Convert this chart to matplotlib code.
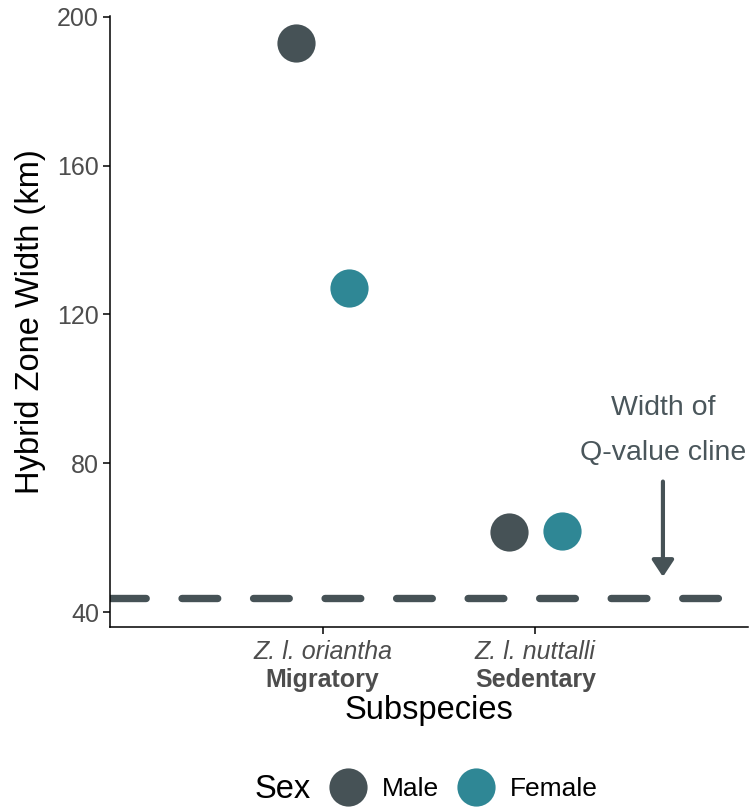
import matplotlib
matplotlib.use("Agg")
import matplotlib.pyplot as plt
from matplotlib.lines import Line2D
import numpy as np

# --- Data ---
subspecies = ["Z. l. oriantha", "Z. l. nuttalli"]
behaviour = ["Migratory", "Sedentary"]
sexes = ["Male", "Female"]
width_male = [192.9, 61.5]
width_female = [127.0, 61.8]
q_cline_width = 43.8

# Colours
MALE = "#465256"
FEMALE = "#2F8795"
LINE = "#465256"
GREY = "#4D4D4D"

plt.rcParams.update({
    "font.family": ["Liberation Sans", "DejaVu Sans"],
    "lines.scale_dashes": False,
})

fig = plt.figure(figsize=(7.49, 8.10), dpi=100)
ax = fig.add_axes([110 / 749, 1 - 626.7 / 810, 638 / 749, 610.7 / 810])

x = np.arange(1, len(subspecies) + 1)
dodge = 0.125
values = {"Male": width_male, "Female": width_female}
colors = {"Male": MALE, "Female": FEMALE}
for i, sex in enumerate(sexes):
    ax.plot(x + (i - 0.5) * 2 * dodge, values[sex], "o", ms=27.5,
            color=colors[sex], mec="none", zorder=3)

# Q-value cline reference line
ax.axhline(q_cline_width, color=LINE, lw=5.3, dashes=(25.7, 25.8),
           dash_capstyle="round", zorder=2)

# annotation with arrow
ax.annotate("", xy=(2.6, 49.5), xytext=(2.6, 75.1),
            arrowprops=dict(arrowstyle="-|>,head_length=0.5,head_width=0.33",
                            lw=3, color=LINE, shrinkA=0, shrinkB=0,
                            mutation_scale=20))
ax.text(2.6, 94.8, "Width of", ha="center", va="center", fontsize=20.5,
        color="#4A565B")
ax.text(2.6, 82.7, "Q-value cline", ha="center", va="center", fontsize=20.5,
        color="#4A565B", clip_on=False)

ax.set_xlim(0, 3)
ax.set_ylim(36.1, 200.2)
ax.set_yticks([40, 80, 120, 160, 200])
ax.set_xticks(x)
ax.set_xticklabels([])
ax.tick_params(axis="both", length=5, width=1.1, color="black",
               labelsize=18, labelcolor=GREY, pad=3)

for xi, sp, beh in zip(x, subspecies, behaviour):
    ax.annotate(sp, xy=(xi, 0), xycoords=("data", "axes fraction"),
                xytext=(0, -18.5), textcoords="offset points",
                ha="center", va="center", fontsize=18, style="italic",
                color=GREY)
    ax.annotate(beh, xy=(xi, 0), xycoords=("data", "axes fraction"),
                xytext=(0, -38.5), textcoords="offset points",
                ha="center", va="center", fontsize=18, weight="bold",
                color=GREY)

for side in ["top", "right"]:
    ax.spines[side].set_visible(False)
for side in ["left", "bottom"]:
    ax.spines[side].set_linewidth(1.1)

ax.set_xlabel("Subspecies", fontsize=23.5, color="black")
ax.xaxis.set_label_coords(0.5, (626.7 - 711) / 610.7)
ax.xaxis.label.set_va("center")
ax.set_ylabel("Hybrid Zone Width (km)", fontsize=23.5, color="black")
ax.yaxis.set_label_coords((30 - 110) / 638, 0.5)
ax.yaxis.label.set_va("center")

# legend along the bottom
fig.text(255 / 749, 1 - 790 / 810, "Sex", fontsize=23.5, ha="left", va="center")
handles = [Line2D([], [], marker="o", ls="none", ms=27.5, color=colors[s], mec="none")
           for s in sexes]
fig.legend(handles, sexes, loc="center left", bbox_to_anchor=(328 / 749, 1 - 789 / 810),
           ncol=2, frameon=False, fontsize=19, handlelength=1.5, handletextpad=0.54,
           columnspacing=0.66, borderpad=0, borderaxespad=0)

fig.savefig("out.png", dpi=100)
